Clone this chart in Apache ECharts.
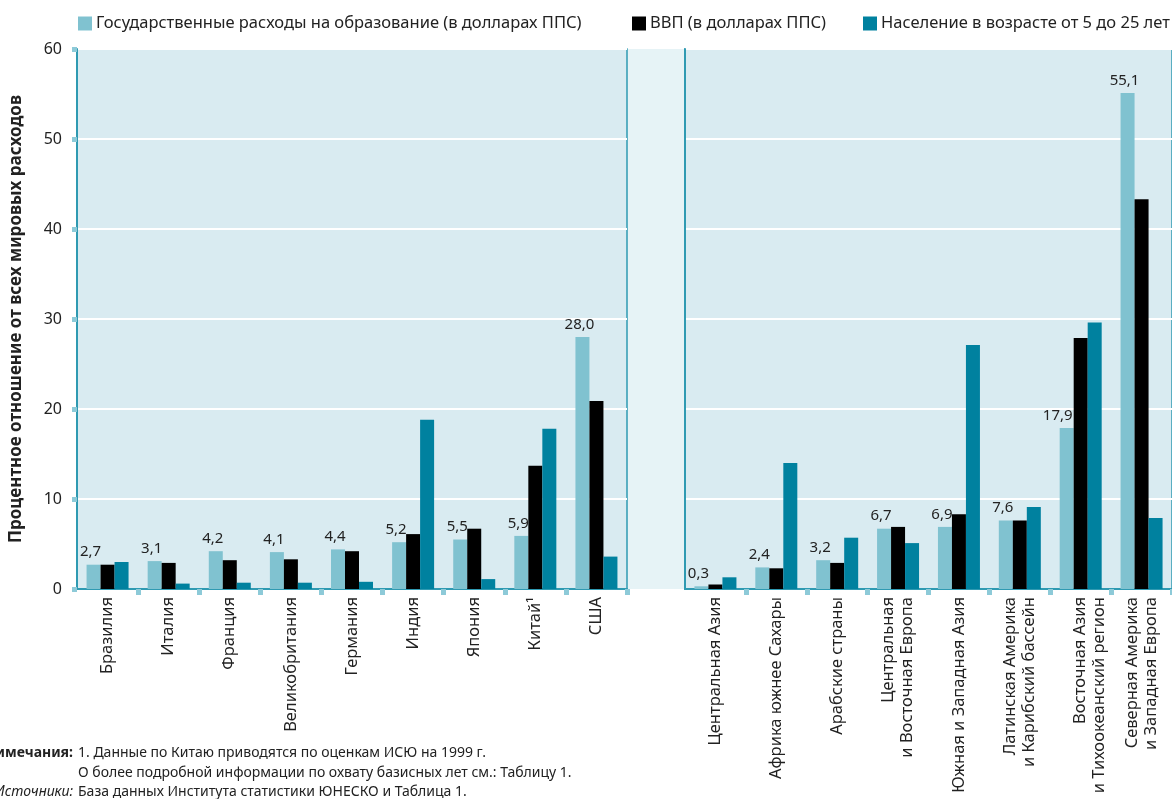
<!DOCTYPE html>
<html>
<head>
<meta charset="utf-8">
<script src="https://cdn.jsdelivr.net/npm/echarts@6/dist/echarts.min.js"></script>
<style>
html,body{margin:0;padding:0;background:#fff;}
#c{width:1172px;height:799px;}
</style>
</head>
<body>
<div id="c"></div>
<script>
const seriesNames = ['Государственные расходы на образование (в долларах ППС)', 'ВВП (в долларах ППС)', 'Население в возрасте от 5 до 25 лет'];
const leftCategories = ['Бразилия','Италия','Франция','Великобритания','Германия','Индия','Япония','Китай¹','США'];
const rightCategories = ['Центральная Азия','Африка южнее Сахары','Арабские страны','Центральная\nи Восточная Европа','Южная и Западная Азия','Латинская Америка\nи Карибский бассейн','Восточная Азия\nи Тихоокеанский регион','Северная Америка\nи Западная Европа'];
const leftEdu = [2.7,3.1,4.2,4.1,4.4,5.2,5.5,5.9,28.0];
const leftGdp = [2.7,2.9,3.2,3.3,4.2,6.1,6.7,13.7,20.9];
const leftPop = [3.0,0.6,0.7,0.7,0.8,18.8,1.1,17.8,3.6];
const rightEdu = [0.3,2.4,3.2,6.7,6.9,7.6,17.9,55.1];
const rightGdp = [0.5,2.3,2.9,6.9,8.3,7.6,27.9,43.3];
const rightPop = [1.3,14.0,5.7,5.1,27.1,9.1,29.6,7.9];
const yTicks = [0,10,20,30,40,50,60];

const FONT = '"Noto Sans", "Open Sans", sans-serif';
const colors = ['#80c2d0', '#000000', '#00819f'];
const panelBg = '#d9ebf1';
const axisColor = '#2f9ab2';
const tickColor = '#8dcad8';

const fmt = p => p.value.toFixed(1).replace('.', ',');

function eduData(arr, shifted) {
  return arr.map((v, i) => ({value: v, label: {offset: [shifted.indexOf(i) >= 0 ? -9 : -3, 0]}}));
}

function mkSeries(name, data, idx, color, withLabel) {
  return {
    type: 'bar', name: name, data: data,
    xAxisIndex: idx, yAxisIndex: idx,
    barWidth: 14, barGap: '0%',
    itemStyle: {color: color},
    label: withLabel ? {show: true, position: 'top', distance: 5, formatter: fmt,
      fontFamily: FONT, fontSize: 15, color: '#222'} : {show: false},
    emphasis: {disabled: true}
  };
}

function xAxisFor(gridIndex, data, shiftedIdx) {
  return {
    type: 'category', gridIndex: gridIndex, data: data,
    axisLine: {lineStyle: {color: axisColor, width: 2}},
    axisTick: {show: true, length: 6, interval: (i) => i !== 0, lineStyle: {color: tickColor, width: 5}},
    axisLabel: {rotate: 90, interval: 0, margin: 8, fontFamily: FONT, fontSize: 16.5, color: '#222', lineHeight: 19,
      formatter: (v, i) => i === shiftedIdx ? '\n' + v : v},
    splitLine: {show: false}
  };
}

const option = {
  animation: false,
  backgroundColor: '#ffffff',
  textStyle: {fontFamily: FONT},
  legend: [0,1,2].map((i) => ({
    data: [seriesNames[i]],
    left: [78, 632, 863][i], top: 15, padding: 0,
    itemWidth: 14, itemHeight: 14, itemGap: 6,
    icon: 'rect',
    textStyle: {fontFamily: FONT, fontSize: 16.5, color: '#222', padding: [0,0,0,-1]},
    selectedMode: false
  })),
  grid: [
    {left: 77, top: 49, width: 550, height: 540, show: true, backgroundColor: panelBg, borderColor: axisColor, borderWidth: 1.5, containLabel: false},
    {left: 685, top: 49, width: 488, height: 540, show: true, backgroundColor: panelBg, borderColor: axisColor, borderWidth: 1.5, containLabel: false}
  ],
  xAxis: [
    xAxisFor(0, leftCategories, -1),
    xAxisFor(1, rightCategories, 6)
  ],
  yAxis: [
    {type: 'value', gridIndex: 0, min: yTicks[0], max: yTicks[yTicks.length-1], interval: 10,
      name: 'Процентное отношение от всех мировых расходов', nameLocation: 'middle', nameGap: 52,
      nameTextStyle: {fontFamily: FONT, fontSize: 17, fontWeight: 'bold', color: '#222'},
      axisLine: {show: true, lineStyle: {color: axisColor, width: 2}},
      axisTick: {show: true, length: 5, lineStyle: {color: tickColor, width: 5}},
      axisLabel: {margin: 15, fontFamily: FONT, fontSize: 16, color: '#222'},
      splitLine: {show: true, lineStyle: {color: '#ffffff', width: 2}}},
    {type: 'value', gridIndex: 1, min: yTicks[0], max: yTicks[yTicks.length-1], interval: 10,
      axisLine: {show: true, lineStyle: {color: axisColor, width: 2}},
      axisTick: {show: false}, axisLabel: {show: false},
      splitLine: {show: true, lineStyle: {color: '#ffffff', width: 2}}}
  ],
  graphic: [
    {type: 'rect', z: -1, shape: {x: 627, y: 49, width: 58, height: 540}, style: {fill: '#e6f3f6'}},
    {type: 'text', x: 73, y: 753, style: {text: 'Примечания:', fontFamily: FONT, fontSize: 14, fontWeight: 'bold', fill: '#222', textAlign: 'right', textVerticalAlign: 'middle'}},
    {type: 'text', x: 78, y: 753, style: {text: '1. Данные по Китаю приводятся по оценкам ИСЮ на 1999 г.', fontFamily: FONT, fontSize: 14, fill: '#222', textVerticalAlign: 'middle'}},
    {type: 'text', x: 78, y: 773, style: {text: 'О более подробной информации по охвату базисных лет см.: Таблицу 1.', fontFamily: FONT, fontSize: 14, fill: '#222', textVerticalAlign: 'middle'}},
    {type: 'text', x: 73, y: 792, style: {text: 'Источники:', fontFamily: FONT, fontSize: 14, fontStyle: 'italic', fill: '#222', textAlign: 'right', textVerticalAlign: 'middle'}},
    {type: 'text', x: 78, y: 792, style: {text: 'База данных Института статистики ЮНЕСКО и Таблица 1.', fontFamily: FONT, fontSize: 14, fill: '#222', textVerticalAlign: 'middle'}}
  ],
  series: [
    mkSeries(seriesNames[0], eduData(leftEdu, []), 0, colors[0], true),
    mkSeries(seriesNames[1], leftGdp, 0, colors[1], false),
    mkSeries(seriesNames[2], leftPop, 0, colors[2], false),
    mkSeries(seriesNames[0], eduData(rightEdu, [6]), 1, colors[0], true),
    mkSeries(seriesNames[1], rightGdp, 1, colors[1], false),
    mkSeries(seriesNames[2], rightPop, 1, colors[2], false)
  ]
};

const chart = echarts.init(document.getElementById('c'), null, {renderer: 'canvas'});
chart.setOption(option);
</script>
</body>
</html>
